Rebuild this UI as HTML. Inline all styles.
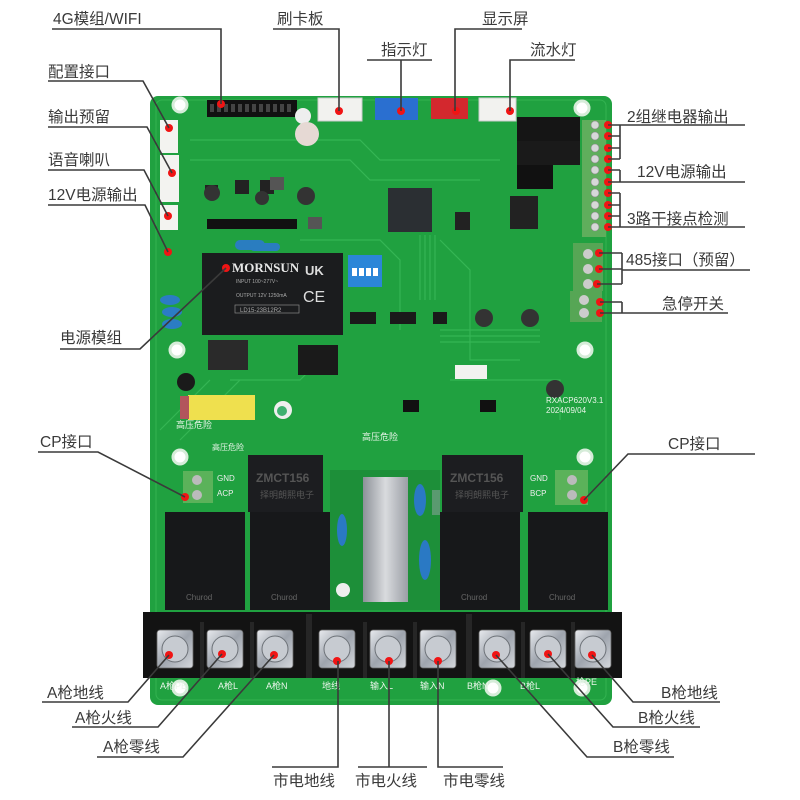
<!DOCTYPE html>
<html><head><meta charset="utf-8"><style>
html,body{margin:0;padding:0;background:#fff;}
svg{display:block;}
text{font-family:"Liberation Sans","Noto Sans CJK SC",sans-serif;}
.lb{font-size:15.5px;fill:#3a3a3a;}
.ln{stroke:#3a3a3a;stroke-width:1.6;fill:none;}
.dot{fill:#f01414;}
</style></head><body>
<svg width="800" height="800" viewBox="0 0 800 800" xmlns="http://www.w3.org/2000/svg">
<defs>
<linearGradient id="scr" x1="0" y1="0" x2="1" y2="1"><stop offset="0" stop-color="#e8eaee"/><stop offset="0.5" stop-color="#9ea4ad"/><stop offset="1" stop-color="#d5d8dd"/></linearGradient>
<linearGradient id="met" x1="0" y1="0" x2="1" y2="0"><stop offset="0" stop-color="#8d9198"/><stop offset="0.5" stop-color="#d9dbde"/><stop offset="1" stop-color="#9a9ea5"/></linearGradient>
</defs>
<rect x="150" y="96" width="462" height="609" rx="8" fill="#20a140"/>
<rect x="156" y="100" width="450" height="600" rx="6" fill="none" stroke="#33b351" stroke-width="1"/>
<g stroke="#3bbb5a" stroke-width="1.2" fill="none" opacity="0.8">
<path d="M190 140 H360 L380 160 H500"/><path d="M190 160 H350 L370 180 H480"/><path d="M300 240 H380 L400 260 V330"/><path d="M440 240 L470 270 V360 H520"/><path d="M230 380 L300 380 L330 350"/><path d="M450 380 H560 V420"/><path d="M180 440 L240 380"/><path d="M160 430 L210 380"/>
<path d="M420 235 V300 M425 235 V300 M430 235 V300 M435 235 V300"/>
<path d="M440 330 H540 M440 336 H540 M440 342 H540"/>
</g>
<g fill="#fff" stroke="#d6ecd9" stroke-width="3"><circle cx="180" cy="105" r="7"/><circle cx="582" cy="108" r="7"/><circle cx="177" cy="350" r="7"/><circle cx="585" cy="350" r="7"/><circle cx="180" cy="457" r="7"/><circle cx="585" cy="457" r="7"/><circle cx="180" cy="688" r="7"/><circle cx="493" cy="688" r="7"/><circle cx="582" cy="688" r="7"/></g>
<rect x="207" y="100" width="90" height="17" fill="#111"/>
<g fill="#444"><rect x="210" y="104" width="4" height="8"/><rect x="217" y="104" width="4" height="8"/><rect x="224" y="104" width="4" height="8"/><rect x="231" y="104" width="4" height="8"/><rect x="238" y="104" width="4" height="8"/><rect x="245" y="104" width="4" height="8"/><rect x="252" y="104" width="4" height="8"/><rect x="259" y="104" width="4" height="8"/><rect x="266" y="104" width="4" height="8"/><rect x="273" y="104" width="4" height="8"/><rect x="280" y="104" width="4" height="8"/><rect x="287" y="104" width="4" height="8"/></g>
<circle cx="303" cy="116" r="8" fill="#eee"/><circle cx="307" cy="134" r="12" fill="#e6d9d4"/>
<rect x="318" y="98" width="44" height="23" fill="#f2f2ef" stroke="#ccc"/>
<rect x="375" y="98" width="43" height="22" fill="#2a6fd0"/>
<rect x="431" y="98" width="37" height="21" fill="#d3282e"/>
<rect x="479" y="98" width="37" height="23" fill="#f2f2ef" stroke="#ccc"/>
<rect x="160" y="120" width="18" height="33" fill="#f3f3f0"/>
<rect x="160" y="155" width="19" height="47" fill="#f3f3f0"/>
<rect x="160" y="205" width="18" height="25" fill="#f3f3f0"/>
<g fill="#222"><rect x="205" y="185" width="13" height="12"/><rect x="235" y="180" width="14" height="14"/><rect x="260" y="180" width="14" height="14"/><circle cx="212" cy="193" r="8" fill="#333"/><circle cx="262" cy="198" r="7" fill="#333"/><circle cx="306" cy="196" r="9" fill="#333"/><rect x="270" y="177" width="14" height="13" fill="#555"/><rect x="308" y="217" width="14" height="12" fill="#555"/></g>
<rect x="207" y="219" width="90" height="10" fill="#111"/>
<rect x="388" y="188" width="44" height="44" fill="#2b2f33"/>
<rect x="455" y="212" width="15" height="18" fill="#222"/>
<rect x="517" y="117" width="63" height="24" fill="#151515"/>
<rect x="517" y="141" width="63" height="24" fill="#1a1a1a"/>
<rect x="517" y="165" width="36" height="24" fill="#111"/>
<rect x="510" y="196" width="28" height="11" fill="#222"/><rect x="510" y="207" width="28" height="11" fill="#222"/><rect x="510" y="218" width="28" height="11" fill="#222"/>
<rect x="582" y="120" width="24" height="117" fill="#5fae5c"/>
<g fill="#d6d8d8" stroke="#888" stroke-width="0.6"><circle cx="595" cy="125" r="4"/><circle cx="595" cy="136" r="4"/><circle cx="595" cy="148" r="4"/><circle cx="595" cy="159" r="4"/><circle cx="595" cy="170" r="4"/><circle cx="595" cy="182" r="4"/><circle cx="595" cy="193" r="4"/><circle cx="595" cy="205" r="4"/><circle cx="595" cy="216" r="4"/><circle cx="595" cy="227" r="4"/></g>
<rect x="573" y="243" width="30" height="48" fill="#56a655"/>
<rect x="570" y="291" width="32" height="31" fill="#56a655"/>
<g fill="#ccc"><circle cx="588" cy="254" r="5"/><circle cx="588" cy="269" r="5"/><circle cx="588" cy="284" r="5"/><circle cx="584" cy="300" r="5"/><circle cx="584" cy="313" r="5"/></g>
<rect x="235" y="240" width="30" height="10" rx="5" fill="#2a7dc0"/><rect x="250" y="243" width="30" height="8" rx="4" fill="#2a7dc0"/>
<rect x="202" y="253" width="141" height="82" fill="#1b1c1e"/>
<text x="232" y="272" style="font-family:'Liberation Serif',serif;font-size:13px;fill:#e8e8e8;font-weight:bold">MORNSUN</text>
<text x="305" y="275" style="font-size:13px;fill:#ddd;font-weight:bold">UK</text>
<text x="303" y="302" style="font-size:16px;fill:#ddd">CE</text>
<text x="236" y="283" style="font-size:5px;fill:#aaa">INPUT 100~277V~</text>
<text x="236" y="297" style="font-size:5px;fill:#aaa">OUTPUT 12V 1250mA</text>
<rect x="235" y="305" width="64" height="8" fill="none" stroke="#888" stroke-width="0.7"/>
<text x="240" y="312" style="font-size:6px;fill:#aaa">LD15-23B12R2</text>
<rect x="348" y="255" width="34" height="32" fill="#2b86d8"/>
<g fill="#fff"><rect x="352" y="268" width="5" height="8"/><rect x="359" y="268" width="5" height="8"/><rect x="366" y="268" width="5" height="8"/><rect x="373" y="268" width="5" height="8"/></g>
<ellipse cx="170" cy="300" rx="10" ry="5" fill="#2b7cc4"/><ellipse cx="172" cy="312" rx="10" ry="5" fill="#2b7cc4"/><ellipse cx="172" cy="324" rx="10" ry="5" fill="#2b7cc4"/>
<g fill="#1a1a1a"><rect x="350" y="312" width="26" height="12"/><rect x="390" y="312" width="26" height="12"/><rect x="433" y="312" width="14" height="12"/><rect x="298" y="345" width="40" height="30"/><rect x="208" y="340" width="40" height="30" fill="#2a2a2a"/><circle cx="186" cy="382" r="9"/></g>
<g fill="#333"><circle cx="484" cy="318" r="9"/><circle cx="530" cy="318" r="9"/><circle cx="555" cy="389" r="9"/></g>
<rect x="455" y="365" width="32" height="14" fill="#f2f2ef"/>
<text x="546" y="403" style="font-size:8px;fill:#e9f5e9">RXACP620V3.1</text>
<text x="546" y="413" style="font-size:8px;fill:#e9f5e9">2024/09/04</text>
<g fill="#111"><rect x="403" y="400" width="16" height="12"/><rect x="480" y="400" width="16" height="12"/></g>
<rect x="188" y="395" width="67" height="25" fill="#efe04e"/><rect x="180" y="396" width="9" height="23" fill="#b2555c"/>
<circle cx="283" cy="410" r="9" fill="#eee"/><circle cx="282" cy="411" r="5" fill="#3fb070"/>
<text x="176" y="428" style="font-size:9px;fill:#e9f5e9">高压危险</text>
<text x="212" y="450" style="font-size:8px;fill:#e9f5e9">高压危险</text>
<text x="362" y="440" style="font-size:9px;fill:#e9f5e9">高压危险</text>
<rect x="183" y="471" width="30" height="32" fill="#5bb25a"/><circle cx="197" cy="480" r="5" fill="#bbb"/><circle cx="197" cy="495" r="5" fill="#bbb"/>
<text x="217" y="481" style="font-size:8px;fill:#eee">GND</text><text x="217" y="496" style="font-size:8px;fill:#eee">ACP</text>
<rect x="555" y="470" width="33" height="35" fill="#5bb25a"/><circle cx="572" cy="480" r="5" fill="#bbb"/><circle cx="572" cy="495" r="5" fill="#bbb"/>
<text x="530" y="481" style="font-size:8px;fill:#eee">GND</text><text x="530" y="496" style="font-size:8px;fill:#eee">BCP</text>
<rect x="248" y="455" width="75" height="57" fill="#1c1d20"/>
<text x="256" y="482" style="font-size:12px;fill:#555;font-weight:bold">ZMCT156</text>
<text x="260" y="498" style="font-size:9px;fill:#555">择明朗熙电子</text>
<rect x="442" y="455" width="81" height="57" fill="#1c1d20"/>
<text x="450" y="482" style="font-size:12px;fill:#555;font-weight:bold">ZMCT156</text>
<text x="455" y="498" style="font-size:9px;fill:#555">择明朗熙电子</text>
<rect x="330" y="470" width="110" height="140" fill="#1d8f39"/>
<rect x="363" y="477" width="45" height="125" fill="url(#met)"/>
<ellipse cx="420" cy="500" rx="6" ry="16" fill="#2a79c4"/><ellipse cx="425" cy="560" rx="6" ry="20" fill="#2a79c4"/><ellipse cx="342" cy="530" rx="5" ry="16" fill="#2a79c4"/>
<rect x="432" y="490" width="8" height="25" fill="#5a9a70"/>
<circle cx="343" cy="590" r="7" fill="#eee"/>
<g fill="#17181a">
<rect x="165" y="512" width="80" height="98"/><rect x="250" y="512" width="80" height="98"/>
<rect x="440" y="512" width="80" height="98"/><rect x="528" y="512" width="80" height="98"/>
</g>
<g style="font-size:8px;fill:#666"><text x="186" y="600">Churod</text><text x="271" y="600">Churod</text><text x="461" y="600">Churod</text><text x="549" y="600">Churod</text></g>
<rect x="143" y="612" width="479" height="66" fill="#131313"/>
<g fill="#262626"><rect x="200" y="622" width="4" height="56"/><rect x="250" y="622" width="4" height="56"/><rect x="306" y="614" width="6" height="64"/><rect x="363" y="622" width="4" height="56"/><rect x="413" y="622" width="4" height="56"/><rect x="466" y="614" width="6" height="64"/><rect x="521" y="622" width="4" height="56"/><rect x="571" y="622" width="4" height="56"/></g>
<g fill="url(#scr)" stroke="#666" stroke-width="0.8">
<rect x="157" y="630" width="36" height="38" rx="3"/><rect x="207" y="630" width="36" height="38" rx="3"/><rect x="257" y="630" width="36" height="38" rx="3"/>
<rect x="319" y="630" width="36" height="38" rx="3"/><rect x="370" y="630" width="36" height="38" rx="3"/><rect x="420" y="630" width="36" height="38" rx="3"/>
<rect x="479" y="630" width="36" height="38" rx="3"/><rect x="530" y="630" width="36" height="38" rx="3"/><rect x="575" y="630" width="36" height="38" rx="3"/>
</g>
<g fill="#c7cbd1" stroke="#6d7278" stroke-width="1"><circle cx="175" cy="649" r="13"/><circle cx="225" cy="649" r="13"/><circle cx="275" cy="649" r="13"/><circle cx="337" cy="649" r="13"/><circle cx="388" cy="649" r="13"/><circle cx="438" cy="649" r="13"/><circle cx="497" cy="649" r="13"/><circle cx="548" cy="649" r="13"/><circle cx="593" cy="649" r="13"/></g>
<g style="font-size:9px;fill:#eaf5ea"><text x="160" y="689">A枪PE</text><text x="218" y="689">A枪L</text><text x="266" y="689">A枪N</text><text x="322" y="689">地线</text><text x="370" y="689">输入L</text><text x="420" y="689">输入N</text><text x="467" y="689">B枪N</text><text x="520" y="689">B枪L</text><text x="576" y="685">枪PE</text></g>
<g class="dot">
<circle cx="221" cy="104" r="4"/><circle cx="339" cy="111" r="4"/><circle cx="401" cy="111" r="4"/><circle cx="456" cy="111" r="4"/><circle cx="510" cy="111" r="4"/>
<circle cx="169" cy="128" r="4"/><circle cx="172" cy="173" r="4"/><circle cx="168" cy="216" r="4"/><circle cx="168" cy="252" r="4"/><circle cx="226" cy="268" r="4"/>
<circle cx="608" cy="125" r="4"/><circle cx="608" cy="136" r="4"/><circle cx="608" cy="148" r="4"/><circle cx="608" cy="159" r="4"/><circle cx="608" cy="170" r="4"/><circle cx="608" cy="182" r="4"/><circle cx="608" cy="193" r="4"/><circle cx="608" cy="205" r="4"/><circle cx="608" cy="216" r="4"/><circle cx="608" cy="227" r="4"/>
<circle cx="599" cy="253" r="4"/><circle cx="599" cy="269" r="4"/><circle cx="597" cy="284" r="4"/><circle cx="600" cy="302" r="4"/><circle cx="600" cy="313" r="4"/>
<circle cx="185" cy="497" r="4"/><circle cx="584" cy="500" r="4"/>
<circle cx="169" cy="655" r="4"/><circle cx="222" cy="654" r="4"/><circle cx="274" cy="655" r="4"/><circle cx="337" cy="661" r="4"/><circle cx="389" cy="661" r="4"/><circle cx="438" cy="661" r="4"/><circle cx="496" cy="655" r="4"/><circle cx="548" cy="654" r="4"/><circle cx="592" cy="655" r="4"/>
</g>
<g class="ln">
<path d="M52 29 H221 V104"/>
<path d="M273 29 H339 V111"/>
<path d="M367 60 H432 M401 60 V111"/>
<path d="M455 111 V29 H522"/>
<path d="M510 111 V60 H575"/>
<path d="M48 81 H143 L169 128"/>
<path d="M48 127 H147 L172 173"/>
<path d="M48 170 H144 L168 216"/>
<path d="M48 205 H145 L168 252"/>
<path d="M60 349 H140 L226 268"/>
<path d="M608 125 H620 M608 136 H620 M608 148 H620 M608 159 H620 M620 125 V159 M620 125 H745"/>
<path d="M608 170 H620 M608 182 H745 M620 170 V182"/>
<path d="M608 193 H620 M608 205 H620 M608 216 H620 M608 227 H745 M620 193 V227"/>
<path d="M599 253 H622 M599 269 H622 M597 284 H622 M622 253 V284 M622 270 H750"/>
<path d="M600 302 H622 M600 313 H728 M622 302 V313"/>
<path d="M38 452 H98 L185 497"/>
<path d="M755 454 H628 L584 500"/>
<path d="M42 702 H128 L169 655"/>
<path d="M72 727 H158 L222 654"/>
<path d="M97 757 H183 L274 655"/>
<path d="M272 767 H338 V661"/>
<path d="M358 767 H427 M389 661 V767"/>
<path d="M438 661 V767 H503"/>
<path d="M720 702 H633 L592 655"/>
<path d="M700 727 H613 L548 654"/>
<path d="M674 757 H587 L496 655"/>
</g>
<g class="lb">
<text x="53" y="24">4G模组/WIFI</text>
<text x="277" y="24">刷卡板</text>
<text x="381" y="55">指示灯</text>
<text x="482" y="24">显示屏</text>
<text x="530" y="55">流水灯</text>
<text x="48" y="77">配置接口</text>
<text x="48" y="122">输出预留</text>
<text x="48" y="165">语音喇叭</text>
<text x="48" y="200">12V电源输出</text>
<text x="60" y="343">电源模组</text>
<text x="627" y="122">2组继电器输出</text>
<text x="637" y="177">12V电源输出</text>
<text x="627" y="224">3路干接点检测</text>
<text x="626" y="265">485接口（预留）</text>
<text x="662" y="309">急停开关</text>
<text x="40" y="447">CP接口</text>
<text x="668" y="449">CP接口</text>
<text x="47" y="698">A枪地线</text>
<text x="75" y="723">A枪火线</text>
<text x="103" y="752">A枪零线</text>
<text x="273" y="786">市电地线</text>
<text x="355" y="786">市电火线</text>
<text x="443" y="786">市电零线</text>
<text x="661" y="698">B枪地线</text>
<text x="638" y="723">B枪火线</text>
<text x="613" y="752">B枪零线</text>
</g>
</svg>
</body></html>
